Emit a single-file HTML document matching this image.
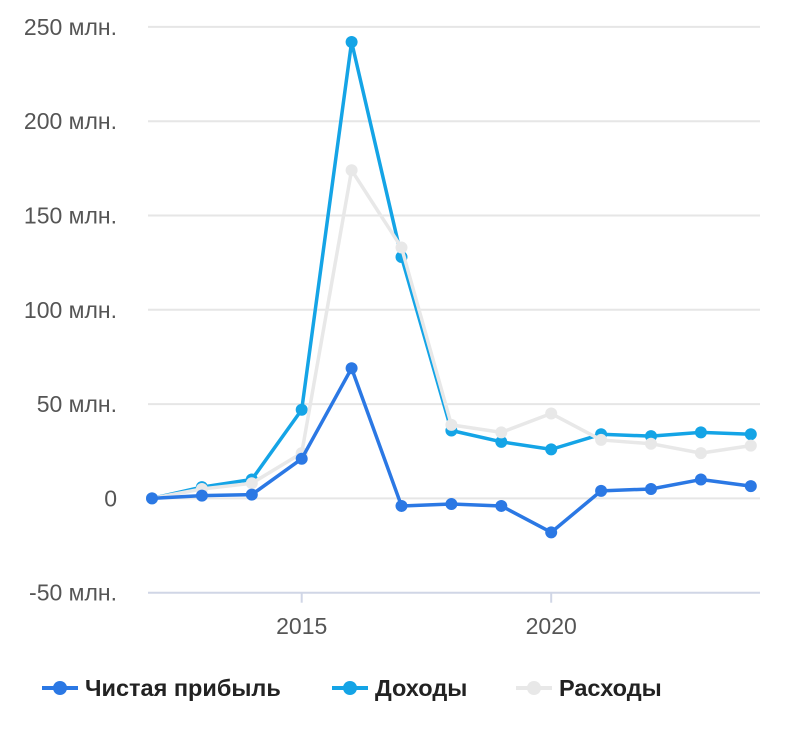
<!DOCTYPE html>
<html><head><meta charset="utf-8"><style>
body{margin:0;background:#fff;width:800px;height:729px;overflow:hidden;font-family:"Liberation Sans",sans-serif}
</style></head><body>
<svg id="chart" width="800" height="729" xmlns="http://www.w3.org/2000/svg"></svg>
<script>
const years=[2012,2013,2014,2015,2016,2017,2018,2019,2020,2021,2022,2023,2024];
const netProfit=[0,1.5,2,21,69,-4,-3,-4,-18,4,5,10,6.5];
const revenue=[0,6,10,47,242,128,36,30,26,34,33,35,34];
const expenses=[0,5,8,24,174,133,39,35,45,31,29,24,28];
const yTicks=[250,200,150,100,50,0,-50];
const yTickLabels=["250 млн.","200 млн.","150 млн.","100 млн.","50 млн.","0","-50 млн."];
const xTicks=[2015,2020];
const NS="http://www.w3.org/2000/svg";
const svg=document.getElementById('chart');
function x(v){return 152+(v-2012)*49.9;}
function y(v){return 498.4-v*1.886;}
function el(t,a,p){const e=document.createElementNS(NS,t);for(const k in a)e.setAttribute(k,a[k]);(p||svg).appendChild(e);return e;}
yTicks.forEach((v,i)=>{
  const g=el('line',{x1:148,x2:760,y1:y(v),y2:y(v),stroke:v===-50?'#d0d6e6':'#e6e6e6','stroke-width':2});
  
  
  const t=el('text',{x:117,y:y(v)+8,'text-anchor':'end','font-size':23,fill:'#555'});
  t.textContent=yTickLabels[i];
  
  
});
xTicks.forEach(v=>{
  const l=el('line',{x1:x(v),x2:x(v),y1:y(-50),y2:y(-50)+10,stroke:'#d0d6e6','stroke-width':2});
  
  
  const t=el('text',{x:x(v),y:634,'text-anchor':'middle','font-size':23,fill:'#555'});
  t.textContent=v;
  
  
});
function series(vals,color,name){
  const g=el('g',{});
  
  
  el('polyline',{points:vals.map((v,i)=>x(years[i])+','+y(v)).join(' '),fill:'none',stroke:color,'stroke-width':3.5,'stroke-linejoin':'round'},g);
  vals.forEach((v,i)=>{
    const c=el('circle',{cx:x(years[i]),cy:y(v),r:6,fill:color},g);
    
    
  });
}
series(revenue,'#14a4e6','revenue-series');
series(expenses,'#e8e8e8','expenses-series');
series(netProfit,'#2b78e4','net-profit-series');
const legend=[["Чистая прибыль",'#2b78e4',42],["Доходы",'#14a4e6',332],["Расходы",'#e8e8e8',516]];
legend.forEach(d=>{
  const g=el('g',{});
  
  
  el('line',{x1:d[2],x2:d[2]+36,y1:688,y2:688,stroke:d[1],'stroke-width':4},g);
  el('circle',{cx:d[2]+18,cy:688,r:7,fill:d[1]},g);
  const t=el('text',{x:d[2]+43,y:696,'font-size':23.5,'font-weight':'bold',fill:'#222'},g);
  t.textContent=d[0];
});
</script>
</body></html>
